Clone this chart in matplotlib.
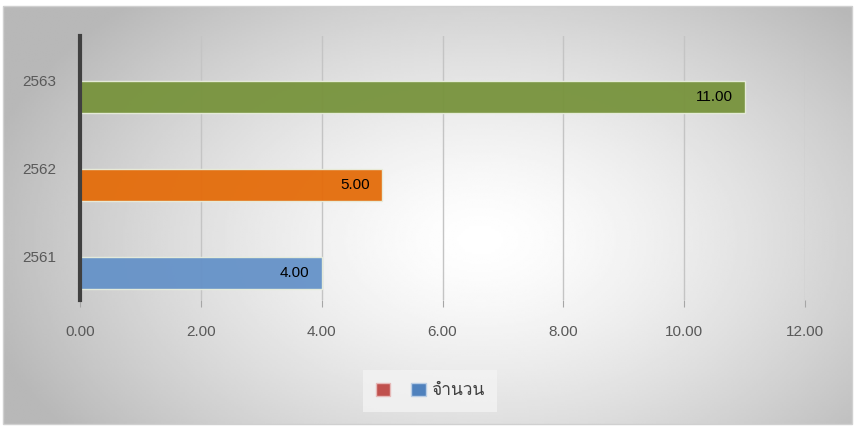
import numpy as np
import matplotlib
matplotlib.use("Agg")
import matplotlib.pyplot as plt
from matplotlib import font_manager
from matplotlib.ft2font import FT2Font
from matplotlib.patches import Rectangle

years = ["2561", "2562", "2563"]
values = [4.0, 5.0, 11.0]
bar_colors = ["#6592c8", "#e46c0a", "#77933c"]
legend_labels = ["", "จำนวน"]
xticks = [0, 2, 4, 6, 8, 10, 12]


def find_thai_font():
    # pick any installed font that actually has Thai glyphs
    for f in font_manager.fontManager.ttflist:
        try:
            if FT2Font(f.fname).get_char_index(ord("จ")):
                return f.name
        except Exception:
            pass
    return None


thai = find_thai_font()
families = ["DejaVu Sans"] + ([thai] if thai else [])
plt.rcParams["font.family"] = ["Liberation Sans"] + families

W, H = 855, 428
fig = plt.figure(figsize=(W / 100, H / 100), dpi=100)

# radial gradient background inside the chart frame
bg = fig.add_axes([0, 0, 1, 1])
bg.set_xlim(0, W)
bg.set_ylim(H, 0)
bg.axis("off")
gx, gy = np.meshgrid(np.linspace(3, 852, 400), np.linspace(6, 424, 200))
d = np.sqrt(((gx - 480) / 500) ** 2 + ((gy - 240) / 320) ** 2)
shade = np.clip(1.0 - 0.27 * d ** 1.4, 0.72, 1.0)
bg.imshow(shade, cmap="gray", vmin=0, vmax=1, extent=(3, 852, 424, 6),
          aspect="auto", interpolation="bilinear")
bg.add_patch(Rectangle((3, 6), 849, 418, fill=False, edgecolor="#d0d0d0", lw=1))

ax = fig.add_axes([80 / W, 1 - 300 / H, 725 / W, 264 / H])
ax.set_facecolor("none")
pos = np.arange(len(years))
ax.barh(pos - 0.19, values, height=0.36, color=bar_colors, alpha=0.95,
        edgecolor="#e8eedc", linewidth=1, zorder=3)
for p, v in zip(pos, values):
    ax.text(v - 0.2, p - 0.19, f"{v:.2f}", ha="right", va="center",
            fontsize=11, color="black", zorder=4)

ax.set_xlim(0, 12)
ax.set_ylim(-0.5, 2.5)
ax.set_xticks(xticks)
ax.set_xticklabels([f"{t:.2f}" for t in xticks])
ax.set_yticks(pos)
ax.set_yticklabels(years)
ax.grid(axis="x", color="#c4c4c4", lw=1, zorder=1)
ax.tick_params(axis="x", length=5, color="#a6a6a6", colors="#595959",
               labelsize=11, pad=13)
ax.tick_params(axis="y", length=0, colors="#595959", labelsize=11, pad=17)
for s in ["top", "right", "bottom"]:
    ax.spines[s].set_visible(False)
ax.spines["left"].set_color("#404040")
ax.spines["left"].set_linewidth(3)
ax.spines["left"].set_zorder(5)

h_red = Rectangle((0, 0), 1, 1, facecolor="#c0504d", edgecolor="#e6b9b8", lw=1)
h_blue = Rectangle((0, 0), 1, 1, facecolor="#4f81bd", edgecolor="#b9cde5", lw=1)
leg = fig.legend([h_red, h_blue], legend_labels, loc="center",
                 bbox_to_anchor=(430 / W, 1 - 391 / H), ncol=2, frameon=True,
                 fontsize=12.5, handlelength=0.85, handleheight=0.85,
                 columnspacing=0.9, handletextpad=0.3, borderpad=0.75,
                 fancybox=False, labelcolor="#404040")
leg.get_frame().set_facecolor("#f3f3f3")
leg.get_frame().set_edgecolor("none")
for t in leg.get_texts():
    t.set_fontfamily(families[::-1])

fig.savefig("out.png", dpi=100)
